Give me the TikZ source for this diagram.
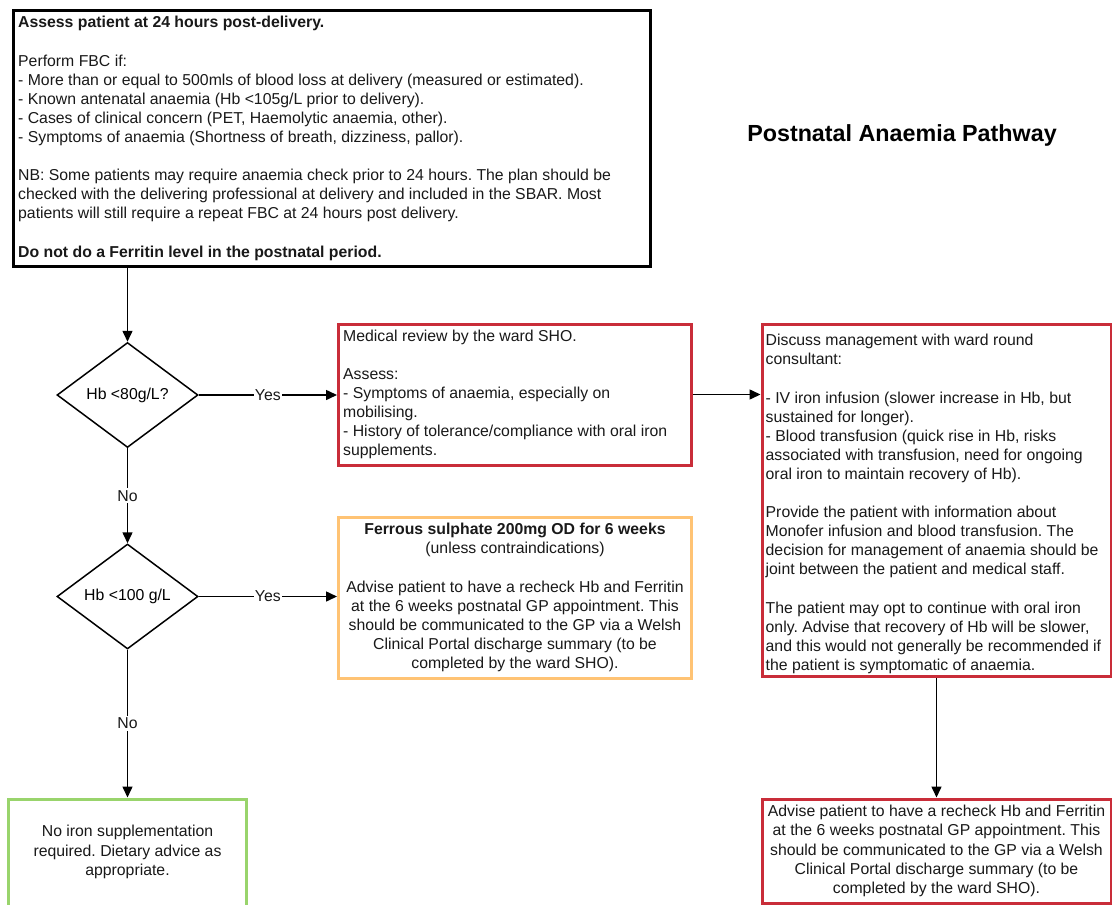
\documentclass[tikz,border=0pt]{standalone}
\usepackage{fontspec}
\setmainfont{Liberation Sans}
\usetikzlibrary{arrows.meta,shapes.geometric}
\definecolor{lred}{HTML}{C92D39}
\definecolor{lorange}{HTML}{FFC374}
\definecolor{lgreen}{HTML}{99D46C}
\frenchspacing
\begin{document}
\begin{tikzpicture}[x=1pt,y=-1pt,
  txt/.style={font=\fontsize{15.8}{19.1}\selectfont, inner sep=0pt, text=black!90},
  frame/.style={draw=#1, line width=3pt, inner sep=0pt},
  dia/.style={diamond, aspect=1.33, draw=black, line width=1.5pt, inner sep=0pt,
    minimum width=141pt, minimum height=105pt, font=\fontsize{15.8}{19.1}\selectfont},
  conn/.style={draw=black, line width=1.5pt, -{Triangle[length=11pt,width=10pt]}},
  lbl/.style={txt, fill=white, inner xsep=1pt, inner ysep=2pt}]
\useasboundingbox (0,0) rectangle (1112,905);
\fill[white] (0,0) rectangle (1112,905);

% top box
\node[frame=black, minimum width=637pt, minimum height=256pt] (top) at (332,138) {};
\node[txt, align=left, anchor=west] (toptext) at ([xshift=6pt,yshift=-0.5pt]top.west) {%
\textbf{Assess patient at 24 hours post-delivery.}\\[19.1pt]
Perform FBC if:\\
- More than or equal to 500mls of blood loss at delivery (measured or estimated).\\
- Known antenatal anaemia (Hb <105g/L prior to delivery).\\
- Cases of clinical concern (PET, Haemolytic anaemia, other).\\
- Symptoms of anaemia (Shortness of breath, dizziness, pallor).\\[19.1pt]
NB: Some patients may require anaemia check prior to 24 hours. The plan should be\\
checked with the delivering professional at delivery and included in the SBAR. Most\\
patients will still require a repeat FBC at 24 hours post delivery.\\[19.1pt]
\textbf{Do not do a Ferritin level in the postnatal period.}};

% title
\node[font=\bfseries\fontsize{23.3}{28}\selectfont, inner sep=0pt] (title) at (902,135) {Postnatal Anaemia Pathway};

% diamonds
\node[dia] (d1) at (127.5,395) {Hb <80g/L?};
\node[dia] (d2) at (127.5,596.5) {Hb <100 g/L};

% medical review box
\node[frame=lred, minimum width=353pt, minimum height=141pt] (r1) at (515,394.5) {};
\node[txt, align=left, anchor=west] (r1text) at ([xshift=6pt]r1.west) {%
Medical review by the ward SHO.\\[19.1pt]
Assess:\\
- Symptoms of anaemia, especially on\\
mobilising.\\
- History of tolerance/compliance with oral iron\\
supplements.};

% right big box
\node[frame=lred, minimum width=349pt, minimum height=352pt] (rb) at (936.5,500.5) {};
\node[txt, align=left, anchor=west] (rbtext) at ([xshift=5pt,yshift=-3.5pt]rb.west) {%
Discuss management with ward round\\
consultant:\\[19.1pt]
- IV iron infusion (slower increase in Hb, but\\
sustained for longer).\\
- Blood transfusion (quick rise in Hb, risks\\
associated with transfusion, need for ongoing\\
oral iron to maintain recovery of Hb).\\[19.1pt]
Provide the patient with information about\\
Monofer infusion and blood transfusion. The\\
decision for management of anaemia should be\\
joint between the patient and medical staff.\\[19.1pt]
The patient may opt to continue with oral iron\\
only. Advise that recovery of Hb will be slower,\\
and this would not generally be recommended if\\
the patient is symptomatic of anaemia.};

% orange box
\node[frame=lorange, minimum width=353pt, minimum height=161pt] (ob) at (515,597.5) {};
\node[txt, align=center] (obtext) at (ob.center) {%
\textbf{Ferrous sulphate 200mg OD for 6 weeks}\\
(unless contraindications)\\[19.1pt]
Advise patient to have a recheck Hb and Ferritin\\
at the 6 weeks postnatal GP appointment. This\\
should be communicated to the GP via a Welsh\\
Clinical Portal discharge summary (to be\\
completed by the ward SHO).};

% green box
\node[frame=lgreen, minimum width=238pt, minimum height=112pt] (gb) at (127.5,855) {};
\node[txt, align=center] (gbtext) at (127.5,852) {%
No iron supplementation\\
required. Dietary advice as\\
appropriate.};

% bottom right box
\node[frame=lred, minimum width=349pt, minimum height=104pt] (br) at (936.5,851) {};
\node[txt, align=center] (brtext) at (br.center) {%
Advise patient to have a recheck Hb and Ferritin\\
at the 6 weeks postnatal GP appointment. This\\
should be communicated to the GP via a Welsh\\
Clinical Portal discharge summary (to be\\
completed by the ward SHO).};

% connectors
\draw[conn] (top.south -| d1.north) -- (d1.north);
\draw[conn] (d1.east) -- node[lbl] (y1) {Yes} (d1.east -| r1.west);
\draw[conn] (r1.east) -- (r1.east -| rb.west);
\draw[conn] (d1.south) -- node[lbl] (n1) {No} (d2.north);
\draw[conn] (d2.east) -- node[lbl] (y2) {Yes} (d2.east -| ob.west);
\draw[conn] (d2.south) -- node[lbl] (n2) {No} (d2.south |- gb.north);
\draw[conn] (rb.south) -- (br.north);
\end{tikzpicture}
\end{document}
